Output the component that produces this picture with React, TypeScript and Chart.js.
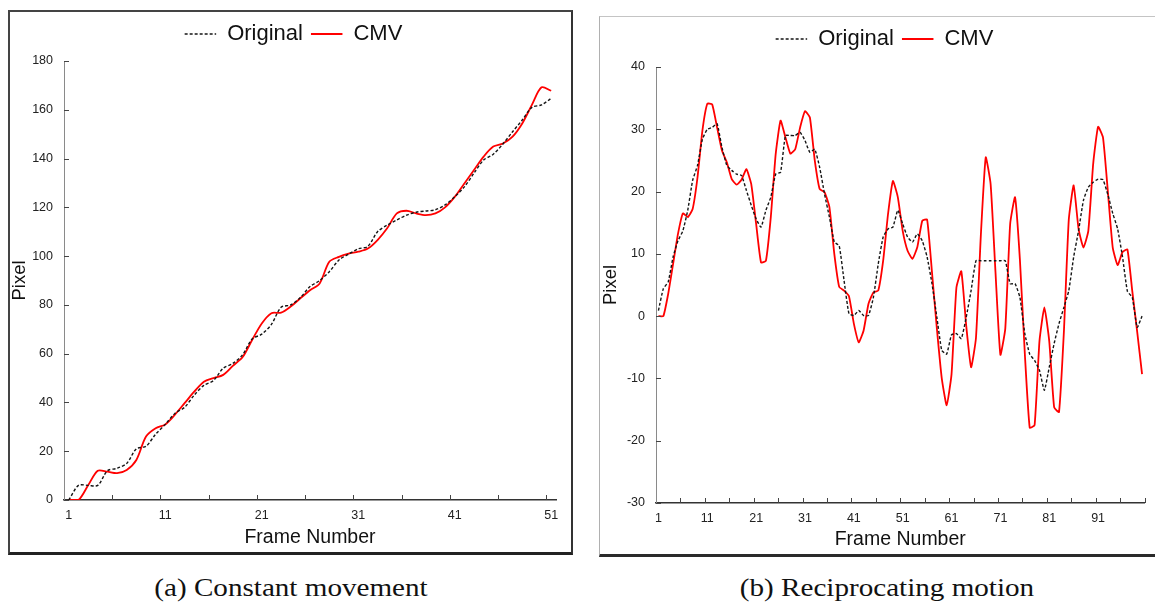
import React, { useEffect, useRef } from 'react';
import { Chart, registerables } from 'chart.js';

Chart.register(...registerables);

// ---------- Data: (a) Constant movement ----------
const framesA: string[] = Array.from({ length: 51 }, (_, i) => String(i + 1));
const xTickLabelsA = ['1', '11', '21', '31', '41', '51'];
const originalA = [
  0, 6, 6, 6, 12, 13, 15, 21, 22, 27,
  31, 35.5, 38, 43, 47, 49, 54, 56, 59.5, 66,
  68, 72, 79, 80, 83, 87.5, 90, 93.6, 98.4, 100.8,
  103, 104, 110, 112.7, 114.8, 116.8, 118, 118.5, 119, 121,
  124.3, 128.4, 134, 139.4, 141.8, 146, 151, 155.8, 161, 162,
  164.7,
];
const cmvA = [
  0, 0, 6, 12, 11.6, 11, 12.3, 16.4, 26, 29.4,
  31, 35, 39.7, 44.4, 48.5, 50, 51.3, 55, 58.5, 65.6,
  72.4, 76.6, 76.8, 79.3, 82.7, 86, 88.8, 97.7, 99.7, 101,
  101.8, 103.1, 106.6, 111.4, 117.5, 118.6, 117.5, 116.8, 117.5, 120,
  124.3, 129.8, 135.3, 140.8, 144.9, 146.2, 149, 154.4, 162, 169.2,
  167.8,
];
const yRangeA = { min: 0, max: 180, step: 20 };

// ---------- Data: (b) Reciprocating motion ----------
const framesB: string[] = Array.from({ length: 100 }, (_, i) => String(i + 1));
const xTickLabelsB = ['1', '11', '21', '31', '41', '51', '61', '71', '81', '91'];
const originalB = [
  0.9, 4.4, 5.5, 9.5, 12.1, 13.7, 17, 21.8, 24.2, 28.4,
  30, 30.3, 30.9, 27.1, 24.2, 23.4, 22.8, 22.6, 20.2, 17.8,
  15.6, 14.3, 17, 19.1, 22.8, 23.1, 29, 29, 29, 29.5,
  28.2, 26.3, 26.8, 23.9, 19.6, 15.9, 11.9, 11.3, 5.7, 0.4,
  0.1, 0.9, 0.1, 0.1, 3, 8.4, 12.7, 14, 14.3, 17,
  14.8, 12.7, 11.9, 13.2, 12.1, 9.5, 5.2, -0.2, -5.5, -6.1,
  -3, -2.8, -3.6, -0.2, 4.1, 8.9, 8.9, 8.9, 8.9, 8.9,
  8.9, 8.9, 5.2, 5.2, 3, -2.8, -6.1, -7.1, -8.7, -11.9,
  -8.2, -4.4, -1.2, 1.4, 4.1, 9.5, 13.7, 18.6, 20.7, 21.5,
  22, 21.9, 19.5, 16.5, 14, 9.5, 4, 3, -1.8, 0,
];
const cmvB = [
  0, 0, 3.6, 8.4, 13.2, 16.5, 15.9, 17.2, 22.3, 29.8,
  34.1, 34, 30.3, 26.6, 24.7, 22, 21.1, 21.9, 23.6, 21.2,
  14.8, 8.6, 8.9, 15.9, 26, 31.4, 28.7, 26.1, 26.8, 30.3,
  32.9, 31.9, 25, 20.4, 19.9, 17.5, 10, 4.7, 4.1, 3.2,
  -1.2, -4.2, -2.3, 2, 3.8, 4.1, 8.9, 16.4, 21.7, 19.1,
  13.7, 10.5, 9.2, 11.1, 15.3, 15.5, 7, -2, -10, -14.3,
  -9.3, 4.6, 7.2, -1.5, -8.2, -3.5, 13, 25.5, 21.2, 7,
  -6.2, -2, 14.8, 19.1, 9, -6, -17.9, -17.5, -4, 1.4,
  -4, -14.6, -15.4, -2.5, 15.5, 21, 14, 11, 13.7, 24.5,
  30.4, 28.7, 20, 11, 8.2, 10.3, 10.7, 4, -2.5, -9.3,
];
const yRangeB = { min: -30, max: 40, step: 10 };

const SANS = "'Liberation Sans', Arial, sans-serif";
const SERIF = "'Liberation Serif', 'Times New Roman', serif";

// draws Excel-style tick marks on the inside of the axes
const insideTicks = {
  id: 'insideTicks',
  afterDraw(chart: any, _args: any, opts: any) {
    const { ctx, chartArea, scales } = chart;
    const xs = scales.x;
    const ys = scales.y;
    const len = opts.len ?? 5;
    ctx.save();
    ctx.strokeStyle = opts.color ?? '#444';
    ctx.lineWidth = 1;
    ctx.beginPath();
    const n = xs.getLabels().length;
    for (let b = opts.xEvery; b <= n; b += opts.xEvery) {
      const px = Math.round(xs.getPixelForValue(b - 0.5)) + 0.5;
      ctx.moveTo(px, chartArea.bottom);
      ctx.lineTo(px, chartArea.bottom - len);
    }
    ys.ticks.forEach((_t: any, i: number) => {
      const py = Math.round(ys.getPixelForTick(i)) + 0.5;
      ctx.moveTo(chartArea.left, py);
      ctx.lineTo(chartArea.left + len, py);
    });
    ctx.stroke();
    ctx.restore();
  },
};

type Props = {
  left: number;
  top: number;
  width: number;
  height: number;
  labels: string[];
  tickLabels: string[];
  original: number[];
  cmv: number[];
  yRange: { min: number; max: number; step: number };
  tension: number;
  yAxisWidth: number;
  xAxisHeight: number;
  topSpacer: number;
  rightSpacer: number;
};

function LineChart(p: Props) {
  const ref = useRef<HTMLCanvasElement>(null);
  useEffect(() => {
    const chart = new Chart(ref.current as HTMLCanvasElement, {
      type: 'line',
      data: {
        labels: p.labels,
        datasets: [
          {
            label: 'Original',
            data: p.original,
            borderColor: '#151515',
            backgroundColor: 'transparent',
            borderWidth: 1.4,
            borderDash: [3, 2],
            pointRadius: 0,
            tension: p.tension,
            fill: false,
            xAxisID: 'x',
            yAxisID: 'y',
          },
          {
            label: 'CMV',
            data: p.cmv,
            borderColor: '#ff0000',
            backgroundColor: 'transparent',
            borderWidth: 1.8,
            pointRadius: 0,
            tension: p.tension,
            fill: false,
            xAxisID: 'x',
            yAxisID: 'y',
          },
        ],
      },
      options: {
        responsive: false,
        animation: false,
        events: [],
        layout: { padding: { top: 5, left: 0, right: 0, bottom: 0 } },
        plugins: {
          legend: {
            display: true,
            position: 'top',
            labels: {
              boxWidth: 31.5,
              boxHeight: 0,
              padding: 8,
              color: '#111',
              font: { family: SANS, size: 22 },
            },
          },
          tooltip: { enabled: false },
          insideTicks: { xEvery: 5, len: 5, color: '#444' },
        } as any,
        scales: {
          x: {
            type: 'category',
            offset: true,
            grid: { display: false, drawTicks: false, offset: true },
            border: { display: true, color: '#333', width: 1.5 },
            ticks: {
              autoSkip: false,
              maxRotation: 0,
              minRotation: 0,
              padding: 8,
              color: '#222',
              font: { family: SANS, size: 12.5 },
              callback: function (this: any, value: any, index: number) {
                const l = p.labels[index];
                return p.tickLabels.includes(l) ? l : '';
              },
            },
            title: {
              display: true,
              text: 'Frame Number',
              color: '#111',
              font: { family: SANS, size: 19.5 },
              padding: { top: 0, bottom: 4 },
            },
            afterFit: (s: any) => {
              s.height = p.xAxisHeight;
            },
          },
          xTop: {
            type: 'linear',
            position: 'top',
            display: true,
            grid: { display: false, drawTicks: false },
            border: { display: false },
            ticks: { display: false },
            afterFit: (s: any) => {
              s.height = p.topSpacer;
            },
          },
          y: {
            type: 'linear',
            position: 'left',
            min: p.yRange.min,
            max: p.yRange.max,
            grid: { display: false, drawTicks: false },
            border: { display: true, color: '#8a8a8a', width: 1 },
            ticks: {
              stepSize: p.yRange.step,
              padding: 11,
              color: '#222',
              font: { family: SANS, size: 12.5 },
            },
            title: {
              display: true,
              text: 'Pixel',
              color: '#111',
              font: { family: SANS, size: 18.5 },
              padding: { top: 1, bottom: 0 },
            },
            afterFit: (s: any) => {
              s.width = p.yAxisWidth;
            },
          },
          yRight: {
            type: 'linear',
            position: 'right',
            display: true,
            grid: { display: false, drawTicks: false },
            border: { display: false },
            ticks: { display: false },
            afterFit: (s: any) => {
              s.width = p.rightSpacer;
            },
          },
        },
      } as any,
      plugins: [insideTicks as any],
    });
    return () => chart.destroy();
  }, []);
  return (
    <canvas
      ref={ref}
      width={p.width}
      height={p.height}
      style={{ position: 'absolute', left: p.left, top: p.top, width: p.width, height: p.height }}
    />
  );
}

export default function App() {
  return (
    <div
      style={{
        position: 'fixed',
        left: 0,
        top: 0,
        width: 1155,
        height: 603,
        overflow: 'hidden',
        background: '#fff',
      }}
    >
      {/* frame of chart (a) */}
      <div
        style={{
          position: 'absolute',
          left: 8,
          top: 10,
          width: 565,
          height: 545,
          boxSizing: 'border-box',
          borderTop: '2px solid #444',
          borderLeft: '2px solid #444',
          borderRight: '2px solid #333',
          borderBottom: '3px solid #222',
        }}
      />
      {/* frame of chart (b) */}
      <div
        style={{
          position: 'absolute',
          left: 599,
          top: 16,
          width: 600,
          height: 541,
          boxSizing: 'border-box',
          borderTop: '1px solid #c4c4c4',
          borderLeft: '1px solid #b0b0b0',
          borderBottom: '3px solid #2a2a2a',
        }}
      />
      <LineChart
        left={8}
        top={10}
        width={571}
        height={543}
        labels={framesA}
        tickLabels={xTickLabelsA}
        original={originalA}
        cmv={cmvA}
        yRange={yRangeA}
        tension={0.3}
        yAxisWidth={56}
        xAxisHeight={53}
        topSpacer={6}
        rightSpacer={23}
      />
      <LineChart
        left={599}
        top={15}
        width={571}
        height={540}
        labels={framesB}
        tickLabels={xTickLabelsB}
        original={originalB}
        cmv={cmvB}
        yRange={yRangeB}
        tension={0.15}
        yAxisWidth={57}
        xAxisHeight={52}
        topSpacer={7}
        rightSpacer={25.5}
      />
      <div
        style={{
          position: 'absolute',
          left: 91,
          width: 400,
          top: 573,
          textAlign: 'center',
          fontFamily: SERIF,
          fontSize: 26,
          lineHeight: '30px',
          color: '#111',
          transform: 'scaleX(1.12)',
          whiteSpace: 'nowrap',
        }}
      >
        (a) Constant movement
      </div>
      <div
        style={{
          position: 'absolute',
          left: 687,
          width: 400,
          top: 573,
          textAlign: 'center',
          fontFamily: SERIF,
          fontSize: 26,
          lineHeight: '30px',
          color: '#111',
          transform: 'scaleX(1.12)',
          whiteSpace: 'nowrap',
        }}
      >
        (b) Reciprocating motion
      </div>
    </div>
  );
}
